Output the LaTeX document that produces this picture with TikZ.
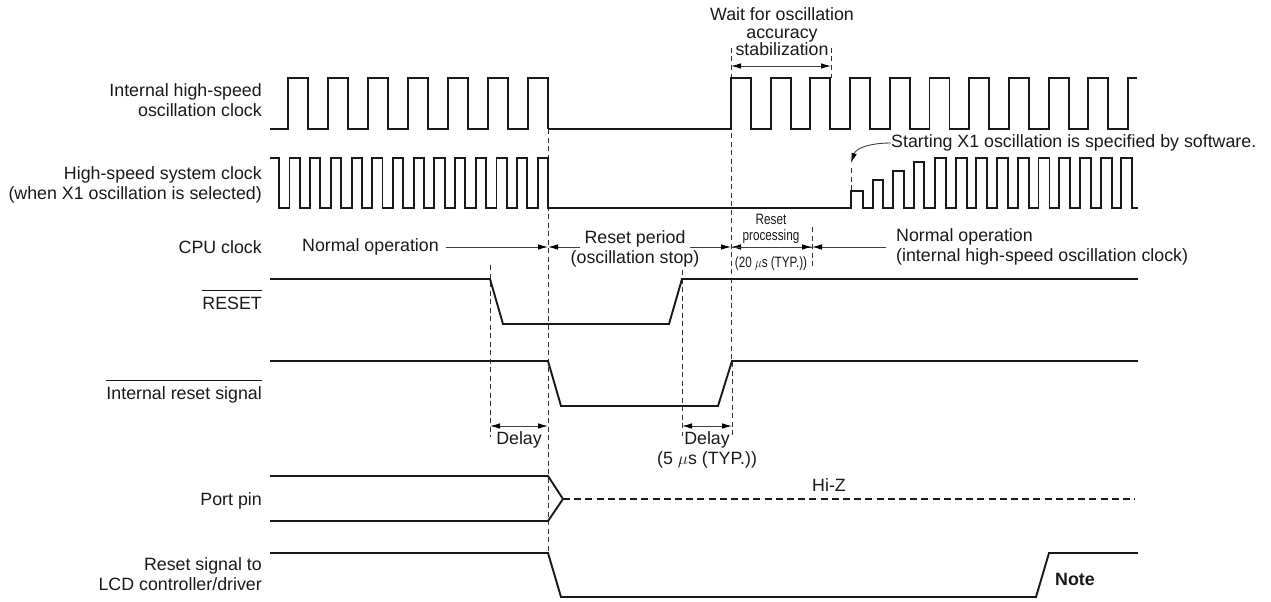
\documentclass[tikz,border=0pt]{standalone}
\usepackage{fontspec}
\setmainfont{Liberation Sans}
\usetikzlibrary{arrows.meta}
\tikzset{
  x=1pt,y=-1pt,
  sig/.style={line width=1.9pt,line join=miter,black!90},
  guide/.style={line width=0.9pt,dash pattern=on 5pt off 3.5pt,black!80},
  dim/.style={line width=0.9pt,black!75,{Latex[length=10pt,width=5.5pt,black]}-{Latex[length=10pt,width=5.5pt,black]}},
  tipend/.style={line width=0.9pt,black!75,-{Latex[length=10pt,width=5.5pt,black]}},
  lab/.style={font=\fontsize{17.8}{20.7}\selectfont,align=right,anchor=east,inner sep=0pt,text=black!90},
  txt/.style={font=\fontsize{17.8}{20.7}\selectfont,align=center,inner sep=0pt,text=black!90},
  small/.style={font=\fontsize{15}{16}\selectfont,align=center,inner sep=0pt,xscale=0.78,text=black!90},
}
\begin{document}
\begin{tikzpicture}
\useasboundingbox (0,0) rectangle (1271,602);
% guide lines
\coordinate (g548a) at (548,129); \coordinate (g548b) at (548,553);
\coordinate (g731a) at (731,48); \coordinate (g731b) at (731,362);
\coordinate (g831a) at (831,48); \coordinate (g831b) at (831,78);
\coordinate (g851a) at (851,168); \coordinate (g851b) at (851,192);
\coordinate (g490a) at (490,265); \coordinate (g490b) at (490,437);
\coordinate (g682a) at (682,270); \coordinate (g682b) at (682,436);
\coordinate (g732a) at (732,362); \coordinate (g732b) at (732,437);
\coordinate (g812a) at (812,227); \coordinate (g812b) at (812,267);
\foreach \a/\b in {g548a/g548b,g731a/g731b,g831a/g831b,g851a/g851b,g490a/g490b,g682a/g682b,g732a/g732b,g812a/g812b}
  \draw[guide] (\a) -- (\b);
% clock 1
\draw[sig] (270,129)
  \foreach \k in {0,...,6} { -- ({288+40*\k},129) -- ({288+40*\k},78) -- ({308+40*\k},78) -- ({308+40*\k},129) };
\draw[sig] (548,129) -- (731,129)
  \foreach \k in {0,...,9} { -- ({731+39.7*\k},129) -- ({731+39.7*\k},78) -- ({751+39.7*\k},78) -- ({751+39.7*\k},129) }
  -- (1128,129) -- (1128,78) -- (1137,78);
% clock 2
\draw[sig] (270,158) -- (279,158) -- (279,208)
  \foreach \k in {0,...,12} { -- ({279+20.7*\k},208) -- ({289.5+20.7*\k},208) -- ({289.5+20.7*\k},158) -- ({299.7+20.7*\k},158) -- ({299.7+20.7*\k},208) }
  -- (851,208) -- (851,191) -- (863,191) -- (863,208) -- (873,208) -- (873,180) -- (883,180) -- (883,208)
  -- (893,208) -- (893,171) -- (904,171) -- (904,208) -- (914,208) -- (914,162) -- (924,162) -- (924,208)
  \foreach \k in {0,...,9} { -- ({935+20.7*\k},208) -- ({935+20.7*\k},158) -- ({946+20.7*\k},158) -- ({946+20.7*\k},208) }
  -- (1138,208);
% reset
\draw[sig] (270,279) -- (490,279) -- (503,324) -- (669,324) -- (682,279) -- (1138,279);
\draw[sig] (270,361) -- (548,361) -- (561,406) -- (718,406) -- (732,361) -- (1138,361);
% port
\draw[sig] (270,476) -- (548,476) -- (563,499);
\draw[sig] (270,521) -- (548,521) -- (563,499);
\draw[sig,dash pattern=on 7pt off 4.2pt] (563,499) -- (1135,499);
% lcd reset
\draw[sig] (270,553) -- (548,553) -- (561,597) -- (1036,597) -- (1049,553) -- (1138,553);
% labels
\node[lab] (l1) at (262,100) {Internal high-speed\\oscillation clock};
\node[lab] (l2) at (262,185) {High-speed system clock\\(when X1 oscillation is selected)};
\node[lab] (l3) at (262,247) {CPU clock};
\node[lab,anchor=base east] (l4) at (262,309.5) {$\overline{\mbox{\rule{0pt}{17.5pt}RESET}}$};
\node[lab,anchor=base east] (l5) at (262,399.5) {$\overline{\mbox{\rule{0pt}{17.5pt}Internal reset signal}}$};
\node[lab] (l6) at (262,501) {Port pin};
\node[lab] (l7) at (262,574) {Reset signal to\\LCD controller/driver};
% top
\node[txt,font=\fontsize{17.8}{17.5}\selectfont] (wait) at (782,32) {Wait for oscillation\\accuracy\\stabilization};
\coordinate (w1) at (731,66); \coordinate (w2) at (831,66);
\draw[dim] (w1) -- (w2);
% start
\node[txt,anchor=west] (start) at (891,143) {Starting X1 oscillation is specified by software.};
\coordinate (st) at (851,163);
\draw[tipend] (start.west) .. controls (870,143) and (856,148) .. (st);
% CPU row
\node[txt,anchor=west] (n1) at (302,247) {Normal operation};
\node[txt] (r1) at (635,249) {Reset period\\(oscillation stop)};
\node[small] (r2) at (771,242.5) {Reset\\processing\\[11pt](20 $\mu$s (TYP.))};
\node[txt,anchor=west,align=left] (n2) at (896,247) {Normal operation\\(internal high-speed oscillation clock)};
\coordinate (a1) at (548,247); \coordinate (a2) at (731,247); \coordinate (a3) at (812,247);
\draw[tipend] (446,247) -- (a1);
\draw[tipend] (580,247) -- (a1);
\draw[tipend] (690,247) -- (a2);
\draw[tipend] (812,247) -- (a2);
\draw[tipend] (731,247) -- (a3);
\draw[tipend] (886,247) -- (a3);
% delays
\coordinate (d1) at (490,426); \coordinate (d2) at (548,426);
\coordinate (d3) at (682,426); \coordinate (d4) at (732,426);
\draw[dim] (d1) -- (d2);
\draw[dim] (d3) -- (d4);
\node[txt] (dl1) at (519,440) {Delay};
\node[txt] (dl2) at (707,450) {Delay\\(5 $\mu$s (TYP.))};
\node[txt] (hz) at (829,485) {Hi-Z};
\node[txt,anchor=west,font=\fontsize{17.8}{17.5}\selectfont\bfseries] (note) at (1055,579) {Note};
\end{tikzpicture}
\end{document}
